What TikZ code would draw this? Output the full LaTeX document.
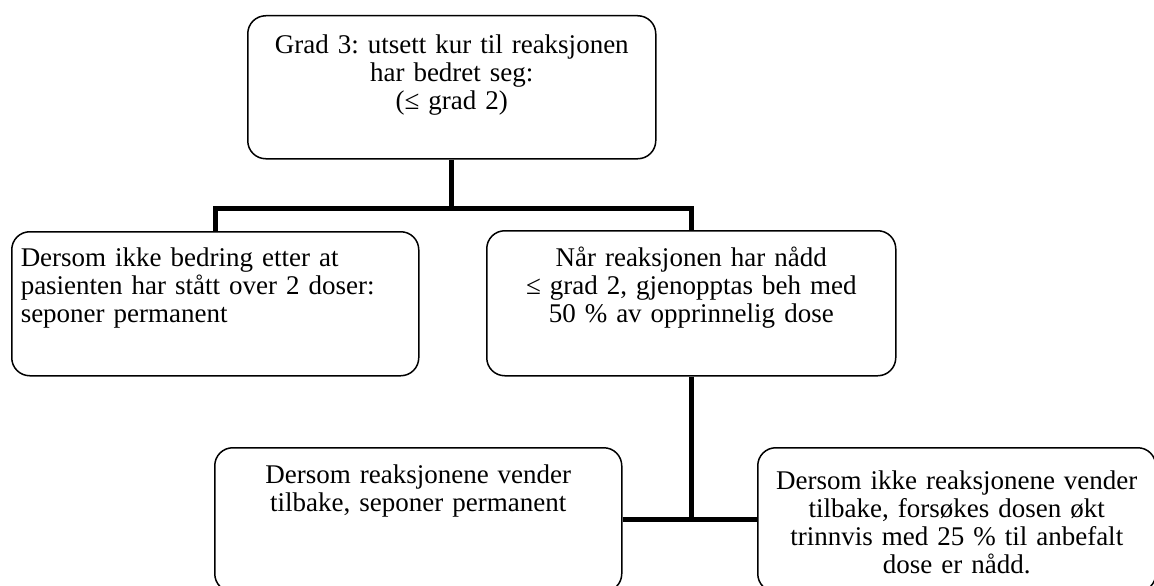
\documentclass[tikz,border=0pt]{standalone}
\usepackage{fontspec}
\setmainfont{Liberation Serif}
\usetikzlibrary{positioning}
\frenchspacing

\tikzset{
  stepbox/.style={draw, line width=1.5pt, rounded corners=18pt, inner xsep=8pt,
    inner ysep=0pt, align=center, anchor=north west},
  link/.style={line width=5pt},
}

\begin{document}
\begin{tikzpicture}[x=1pt, y=-1pt, font=\fontsize{27}{27.8}\selectfont]
  \useasboundingbox (0,0) rectangle (1154,586);

  % boxes
  \node[stepbox, text width=392pt, text height=38pt, text depth=105pt] (grad) at (247,15)
    {Grad 3: utsett kur til reaksjonen\\ har bedret seg:\\ (≤ grad 2)};
  \node[stepbox, align=left, inner xsep=9pt, text width=389pt, text height=35pt, text depth=109pt] (nobedring) at (11,231)
    {Dersom ikke bedring etter at\\ pasienten har stått over 2 doser:\\ seponer permanent};
  \node[stepbox, text width=393pt, text height=36pt, text depth=109pt] (naar) at (486,230)
    {Når reaksjonen har nådd\\ ≤ grad 2, gjenopptas beh med\\ 50 \% av opprinnelig dose};
  \node[stepbox, text width=391pt, text height=36pt, text depth=108pt] (tilbake) at (214,447)
    {Dersom reaksjonene vender\\ tilbake, seponer permanent};
  \node[stepbox, text width=382pt, text height=42pt, text depth=102pt] (okt) at (757,447)
    {Dersom ikke reaksjonene vender\\ tilbake, forsøkes dosen økt\\ trinnvis med 25 \% til anbefalt\\ dose er nådd.};

  % connectors
  \draw[link] (grad.south) -- ++(0,49) coordinate (bar);
  \draw[link] (nobedring.north) |- (bar) -| (naar.north);
  \draw[link] (naar.south) -- (naar.south |- tilbake.east);
  \draw[link] (tilbake.east) -- (okt.west);
\end{tikzpicture}
\end{document}
